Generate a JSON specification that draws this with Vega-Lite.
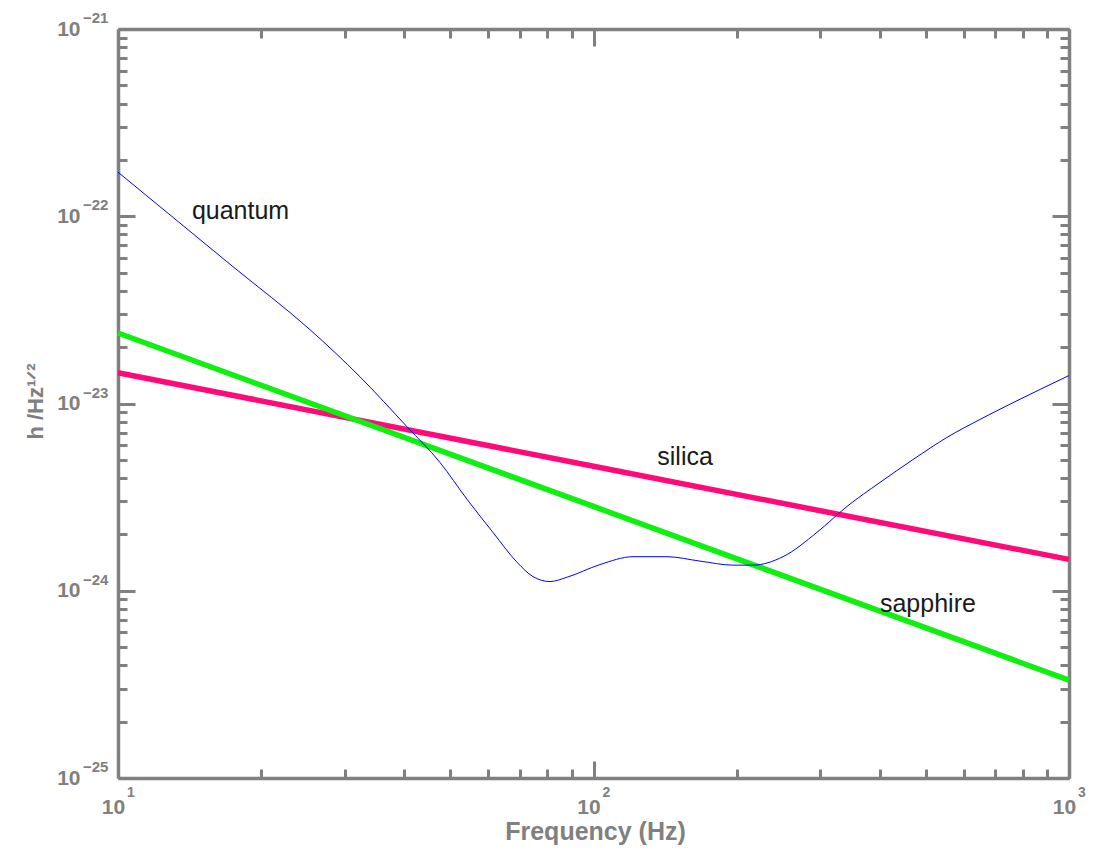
{
  "$schema": "https://vega.github.io/schema/vega-lite/v6.json",
  "width": 951,
  "height": 749,
  "autosize": "none",
  "padding": {"left": 118, "top": 29, "right": 32, "bottom": 73},
  "background": "white",
  "config": {
    "view": {"stroke": null},
    "axis": {
      "grid": false,
      "domainColor": "#808080",
      "domainWidth": 3.5,
      "tickColor": "#808080",
      "tickWidth": 3,
      "labelColor": "#808080",
      "labelFont": "Liberation Sans",
      "labelFontWeight": "bold",
      "labelFontSize": 21,
      "labelOverlap": false,
      "labelFlush": false,
      "labelBound": false,
      "titleColor": "#808080",
      "titleFont": "Liberation Sans",
      "titleFontWeight": "bold"
    }
  },
  "datasets": {
    "curves": [
      {"series": "silica", "f": 10, "h": 1.46e-23},
      {"series": "silica", "f": 100, "h": 4.62e-24},
      {"series": "silica", "f": 1000, "h": 1.47e-24},
      {"series": "sapphire", "f": 10, "h": 2.38e-23},
      {"series": "sapphire", "f": 100, "h": 2.82e-24},
      {"series": "sapphire", "f": 1000, "h": 3.33e-25},
      {"series": "quantum", "f": 10, "h": 1.72e-22},
      {"series": "quantum", "f": 17.45, "h": 5.38e-23},
      {"series": "quantum", "f": 25.33, "h": 2.48e-23},
      {"series": "quantum", "f": 32.27, "h": 1.39e-23},
      {"series": "quantum", "f": 40.5, "h": 7.53e-24},
      {"series": "quantum", "f": 47.56, "h": 4.84e-24},
      {"series": "quantum", "f": 54.2, "h": 3.08e-24},
      {"series": "quantum", "f": 61.45, "h": 2.05e-24},
      {"series": "quantum", "f": 69.05, "h": 1.42e-24},
      {"series": "quantum", "f": 74.6, "h": 1.19e-24},
      {"series": "quantum", "f": 81.0, "h": 1.12e-24},
      {"series": "quantum", "f": 87.9, "h": 1.18e-24},
      {"series": "quantum", "f": 103.2, "h": 1.38e-24},
      {"series": "quantum", "f": 121.1, "h": 1.52e-24},
      {"series": "quantum", "f": 142.7, "h": 1.52e-24},
      {"series": "quantum", "f": 167.5, "h": 1.44e-24},
      {"series": "quantum", "f": 196.6, "h": 1.37e-24},
      {"series": "quantum", "f": 216.5, "h": 1.37e-24},
      {"series": "quantum", "f": 250.3, "h": 1.52e-24},
      {"series": "quantum", "f": 295.1, "h": 2.05e-24},
      {"series": "quantum", "f": 341.3, "h": 2.82e-24},
      {"series": "quantum", "f": 400.5, "h": 3.79e-24},
      {"series": "quantum", "f": 469.8, "h": 5.02e-24},
      {"series": "quantum", "f": 553.8, "h": 6.59e-24},
      {"series": "quantum", "f": 649.8, "h": 8.22e-24},
      {"series": "quantum", "f": 762.5, "h": 1.01e-23},
      {"series": "quantum", "f": 1000, "h": 1.41e-23}
    ],
    "labels": [
      {"label": "quantum", "f": 18.1, "h": 1.07e-22},
      {"label": "silica", "f": 155.8, "h": 5.15e-24},
      {"label": "sapphire", "f": 505, "h": 8.45e-25}
    ],
    "xexp": [
      {"f": 10, "e": "1"},
      {"f": 100, "e": "2"},
      {"f": 1000, "e": "3"}
    ],
    "yexp": [
      {"h": 1e-21, "e": "−21"},
      {"h": 1e-22, "e": "−22"},
      {"h": 1e-23, "e": "−23"},
      {"h": 1e-24, "e": "−24"},
      {"h": 1e-25, "e": "−25"}
    ]
  },
  "layer": [
    {
      "data": {"name": "curves"},
      "transform": [{"filter": "datum.series != 'quantum'"}],
      "mark": {"type": "line", "strokeWidth": 5.5, "strokeCap": "butt"},
      "encoding": {
        "x": {
          "field": "f", "type": "quantitative",
          "scale": {"type": "log", "domain": [10, 1000], "nice": false},
          "axis": {
            "orient": "bottom",
            "values": [10, 20, 30, 40, 50, 60, 70, 80, 90, 100, 200, 300, 400, 500, 600, 700, 800, 900, 1000],
            "tickSize": {"condition": {"test": "datum.value == 10 || datum.value == 100 || datum.value == 1000", "value": -17}, "value": -9},
            "labelExpr": "datum.value == 10 || datum.value == 100 || datum.value == 1000 ? '10' : ''",
            "labelBaseline": "middle",
            "labelPadding": 46,
            "labelOffset": -5,
            "title": "Frequency (Hz)",
            "titleFontSize": 25,
            "titleX": 477,
            "titleY": 53,
            "titleBaseline": "middle",
            "titleAlign": "center"
          }
        },
        "y": {
          "field": "h", "type": "quantitative",
          "scale": {"type": "log", "domain": [1e-25, 1e-21], "nice": false},
          "axis": {
            "orient": "left",
            "values": [1e-25, 2e-25, 3e-25, 4e-25, 5e-25, 6e-25, 7e-25, 8e-25, 9e-25, 1e-24, 2e-24, 3e-24, 4e-24, 5e-24, 6e-24, 7e-24, 8e-24, 9e-24, 1e-23, 2e-23, 3e-23, 4e-23, 5e-23, 6e-23, 7e-23, 8e-23, 9e-23, 1e-22, 2e-22, 3e-22, 4e-22, 5e-22, 6e-22, 7e-22, 8e-22, 9e-22, 1e-21],
            "tickSize": {"condition": {"test": "datum.value == 1e-25 || datum.value == 1e-24 || datum.value == 1e-23 || datum.value == 1e-22 || datum.value == 1e-21", "value": -17}, "value": -9},
            "labelExpr": "datum.value == 1e-21 || datum.value == 1e-22 || datum.value == 1e-23 || datum.value == 1e-24 || datum.value == 1e-25 ? '10' : ''",
            "labelBaseline": "middle",
            "labelAlign": "right",
            "labelPadding": 55,
            "title": "h /Hz¹ᐟ²",
            "titleFontSize": 22,
            "titleAngle": 270,
            "titleX": -83,
            "titleY": 372,
            "titleBaseline": "middle",
            "titleAlign": "center"
          }
        },
        "color": {
          "field": "series", "type": "nominal",
          "scale": {"domain": ["silica", "sapphire"], "range": ["#ff0a78", "#10f010"]},
          "legend": null
        }
      }
    },
    {
      "data": {"name": "curves"},
      "transform": [{"filter": "datum.series == 'quantum'"}],
      "mark": {"type": "line", "strokeWidth": 1, "interpolate": "monotone", "color": "#0000ff"},
      "encoding": {
        "x": {"field": "f", "type": "quantitative", "axis": null},
        "y": {"field": "h", "type": "quantitative", "axis": null}
      }
    },
    {
      "data": {"name": "xexp"},
      "mark": {"type": "text", "font": "Liberation Sans", "fontSize": 14, "fontWeight": "bold", "color": "#808080", "align": "left", "baseline": "middle", "dx": 9, "dy": 15},
      "encoding": {
        "text": {"field": "e"},
        "x": {"field": "f", "type": "quantitative", "axis": null},
        "y": {"datum": 1e-25, "type": "quantitative", "axis": null}
      }
    },
    {
      "data": {"name": "yexp"},
      "mark": {"type": "text", "font": "Liberation Sans", "fontSize": 15, "fontWeight": "bold", "color": "#808080", "align": "left", "baseline": "middle", "dx": -35, "dy": -11},
      "encoding": {
        "text": {"field": "e"},
        "x": {"datum": 10, "type": "quantitative", "axis": null},
        "y": {"field": "h", "type": "quantitative", "axis": null}
      }
    },
    {
      "data": {"name": "labels"},
      "mark": {"type": "text", "font": "Liberation Sans", "fontSize": 25, "color": "#1a1a1a", "align": "center", "baseline": "middle"},
      "encoding": {
        "text": {"field": "label"},
        "x": {
          "field": "f", "type": "quantitative",
          "axis": {
            "orient": "top",
            "values": [10, 20, 30, 40, 50, 60, 70, 80, 90, 100, 200, 300, 400, 500, 600, 700, 800, 900, 1000],
            "tickSize": {"condition": {"test": "datum.value == 10 || datum.value == 100 || datum.value == 1000", "value": -17}, "value": -9},
            "labels": false,
            "title": null
          }
        },
        "y": {
          "field": "h", "type": "quantitative",
          "axis": {
            "orient": "right",
            "values": [1e-25, 2e-25, 3e-25, 4e-25, 5e-25, 6e-25, 7e-25, 8e-25, 9e-25, 1e-24, 2e-24, 3e-24, 4e-24, 5e-24, 6e-24, 7e-24, 8e-24, 9e-24, 1e-23, 2e-23, 3e-23, 4e-23, 5e-23, 6e-23, 7e-23, 8e-23, 9e-23, 1e-22, 2e-22, 3e-22, 4e-22, 5e-22, 6e-22, 7e-22, 8e-22, 9e-22, 1e-21],
            "tickSize": {"condition": {"test": "datum.value == 1e-25 || datum.value == 1e-24 || datum.value == 1e-23 || datum.value == 1e-22 || datum.value == 1e-21", "value": -17}, "value": -9},
            "labels": false,
            "title": null
          }
        }
      }
    }
  ],
  "resolve": {"axis": {"x": "independent", "y": "independent"}}
}
